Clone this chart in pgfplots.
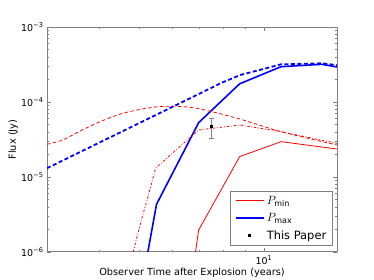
\documentclass[border=0pt]{standalone}
\usepackage{fontspec}
\setmainfont{DejaVu Sans}
\usepackage{pgfplots}
\pgfplotsset{compat=1.18}
\begin{document}
\begin{tikzpicture}
\begin{loglogaxis}[
  scale only axis, width=290bp, height=225bp,
  xmin=3, xmax=15, ymin=1e-6, ymax=1e-3,
  xtick={10}, xticklabels={10\textsuperscript{1}},
  minor xtick={3,4,5,6,7,8,9},
  ytick={1e-6,1e-5,1e-4,1e-3},
  yticklabels={10\textsuperscript{−6},10\textsuperscript{−5},10\textsuperscript{−4},10\textsuperscript{−3}},
  minor ytick={2e-6,3e-6,4e-6,5e-6,6e-6,7e-6,8e-6,9e-6,2e-5,3e-5,4e-5,5e-5,6e-5,7e-5,8e-5,9e-5,2e-4,3e-4,4e-4,5e-4,6e-4,7e-4,8e-4,9e-4},
  tick align=inside,
  major tick length=4bp, minor tick length=2bp,
  tick style={gray, line width=0.6bp},
  axis line style={gray, line width=1bp},
  ticklabel style={font=\fontsize{9.5}{11}\selectfont},
  xlabel={Observer Time after Explosion (years)},
  ylabel={Flux (Jy)},
  label style={font=\fontsize{9.8}{11}\selectfont},
  xlabel style={at={(axis description cs:0.5,-0.094)}, anchor=center},
  ylabel style={at={(axis description cs:-0.117,0.5)}, anchor=center},
  legend style={at={(0.985,0.027)}, anchor=south east, draw=gray, line width=0.8bp,
    font=\fontsize{11.5}{13}\selectfont, row sep=3.5bp, inner xsep=4bp, inner ysep=3bp, cells={anchor=west}},
  legend image code/.code={\draw[mark repeat=2,mark phase=2,#1] plot coordinates {(0cm,0cm) (0.5cm,0cm) (1cm,0cm)};},
]
% red solid (P_min)
\addplot[draw=red, line width=0.8bp] coordinates {
 (6.84,1e-6) (6.96,1.96e-6) (8.74,1.87e-5) (11.0,2.96e-5) (15,2.36e-5)};
\addlegendentry{$P_{\min}$}
% blue solid (P_max)
\addplot[draw=blue, line width=1.6bp] coordinates {
 (5.25,1e-6) (5.51,4.33e-6) (6.96,5.30e-5) (8.74,1.75e-4) (11.0,2.96e-4) (13.8,3.18e-4) (15,2.93e-4)};
\addlegendentry{$P_{\max}$}
% data point
\addplot[only marks, mark=square*, mark size=1bp, draw=black, fill=black,
  error bars/.cd, y dir=both, y explicit,
  error bar style={draw=gray, line width=1.2bp},
  error mark options={rotate=90, mark size=2.5bp, draw=gray, line width=0.8bp}]
  coordinates {(7.46,4.69e-5) +- (0,1.4e-5)};
\addlegendentry{This Paper}
% red dashed
\addplot[draw=red, line width=0.8bp, dash pattern=on 3.5bp off 2.5bp, smooth, tension=0.5, forget plot] coordinates {
 (3.0,2.73e-5) (3.27,3.11e-5) (3.61,4.11e-5) (4.04,5.50e-5) (4.51,6.92e-5) (5.04,7.99e-5)
 (5.63,8.71e-5) (6.29,8.71e-5) (7.03,8.06e-5) (8.63,6.06e-5) (11.0,4.02e-5) (15,2.67e-5)};
% red dash-dot
\addplot[draw=red, line width=0.8bp, dash pattern=on 2.5bp off 1.8bp on 0.8bp off 1.8bp, forget plot] coordinates {
 (4.84,1e-6) (5.09,2.96e-6) (5.23,4.94e-6) (5.48,1.31e-5) (6.96,4.24e-5) (8.77,4.93e-5) (11.0,4.02e-5) (15,2.81e-5)};
% blue dashed
\addplot[draw=blue, line width=1.8bp, dash pattern=on 4bp off 2.5bp, forget plot] coordinates {
 (3.0,1.31e-5) (7.92,1.81e-4) (8.77,2.29e-4) (11.0,3.18e-4) (13.8,3.28e-4) (15,3.1e-4)};
\end{loglogaxis}
\pgfresetboundingbox
\path ([xshift=-47bp,yshift=-28bp]current axis.south west) rectangle ([xshift=37bp,yshift=27bp]current axis.north east);
\end{tikzpicture}
\end{document}
